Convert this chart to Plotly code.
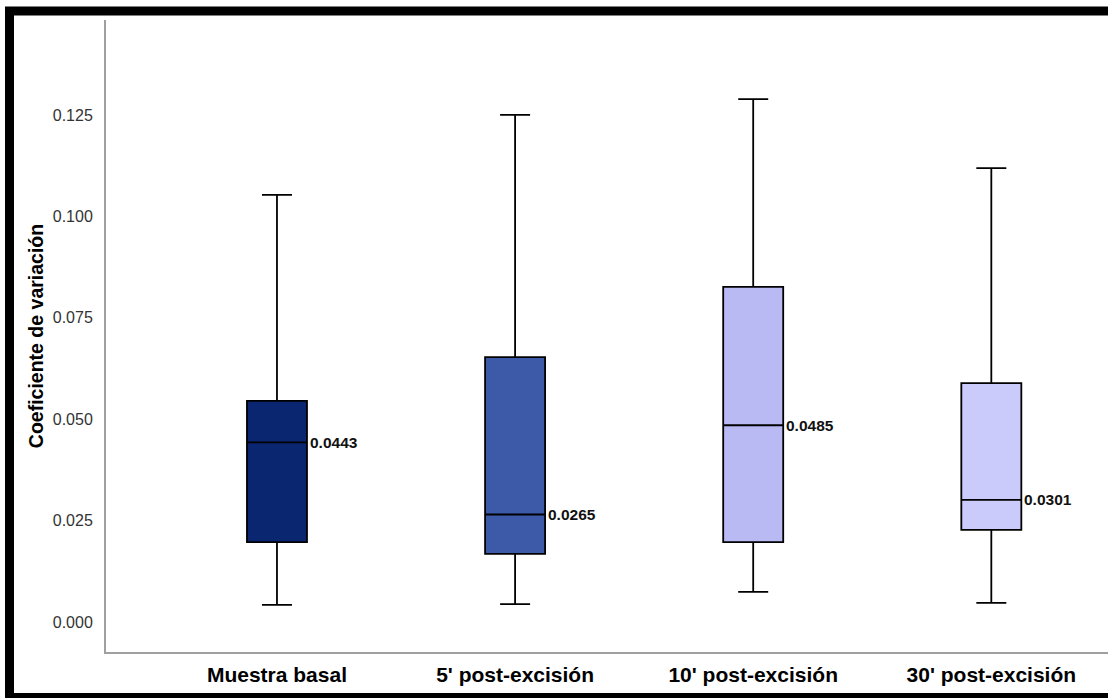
import plotly.graph_objects as go

categories = ["Muestra basal", "5' post-excisión", "10' post-excisión", "30' post-excisión"]
lower_whisker = [0.0042, 0.0044, 0.0074, 0.0047]
q1_values = [0.0197, 0.0168, 0.0197, 0.0227]
medians = [0.0443, 0.0265, 0.0485, 0.0301]
q3_values = [0.0545, 0.0653, 0.0826, 0.0589]
upper_whisker = [0.1053, 0.1250, 0.1289, 0.1119]
median_labels = ["0.0443", "0.0265", "0.0485", "0.0301"]
y_ticks = [0.000, 0.025, 0.050, 0.075, 0.100, 0.125]

colors = ["#0b2670", "#3d5aa9", "#b9b9f4", "#cacafb"]
FONT = "Liberation Sans, Arial, Helvetica, sans-serif"

fig = go.Figure()
for i, cat in enumerate(categories):
    fig.add_trace(go.Box(
        x=[i],
        q1=[q1_values[i]], median=[medians[i]], q3=[q3_values[i]],
        lowerfence=[lower_whisker[i]], upperfence=[upper_whisker[i]],
        fillcolor=colors[i],
        line=dict(color="#000000", width=1.8),
        width=0.252,
        whiskerwidth=0.5,
        boxpoints=False,
        showlegend=False,
        hoverinfo="skip",
        name=cat,
    ))
    fig.add_annotation(
        x=i, y=medians[i], text=median_labels[i], showarrow=False,
        xanchor="left", yanchor="middle", xshift=31,
        font=dict(family=FONT, size=15.5, color="#111111", weight="bold"),
    )

fig.update_layout(
    width=1108, height=698,
    margin=dict(l=106, r=0, t=20, b=46),
    paper_bgcolor="white", plot_bgcolor="white",
    font=dict(family=FONT),
    xaxis=dict(
        range=[-0.718, 3.49],
        tickvals=list(range(len(categories))),
        ticktext=categories,
        showgrid=False, zeroline=False,
        showline=True, linecolor="#a0a0a0", linewidth=2,
        ticks="", ticklabelstandoff=3,
        tickfont=dict(size=21, color="#000000", weight="bold"),
    ),
    yaxis=dict(
        range=[-0.0074, 0.1484],
        tickvals=y_ticks,
        tickformat=".3f",
        showgrid=False, zeroline=False,
        showline=True, linecolor="#a0a0a0", linewidth=2,
        ticks="", ticklabelstandoff=8,
        tickfont=dict(size=16, color="#333333"),
        title=dict(text="Coeficiente de variación", standoff=4,
                   font=dict(size=19.5, color="#000000", weight="bold")),
    ),
    shapes=[
        dict(type="rect", xref="paper", yref="paper",
             x0=(9.5 - 106) / 1002, x1=(1118 - 106) / 1002,
             y0=(652 - 697.5) / 632, y1=(652 - 11) / 632,
             line=dict(color="#000000", width=9), fillcolor="rgba(0,0,0,0)",
             layer="above"),
    ],
)

fig.write_html(
    "out.html",
    config={"displayModeBar": False},
    post_script="document.body.style.margin='0';document.body.style.overflow='hidden';",
)
